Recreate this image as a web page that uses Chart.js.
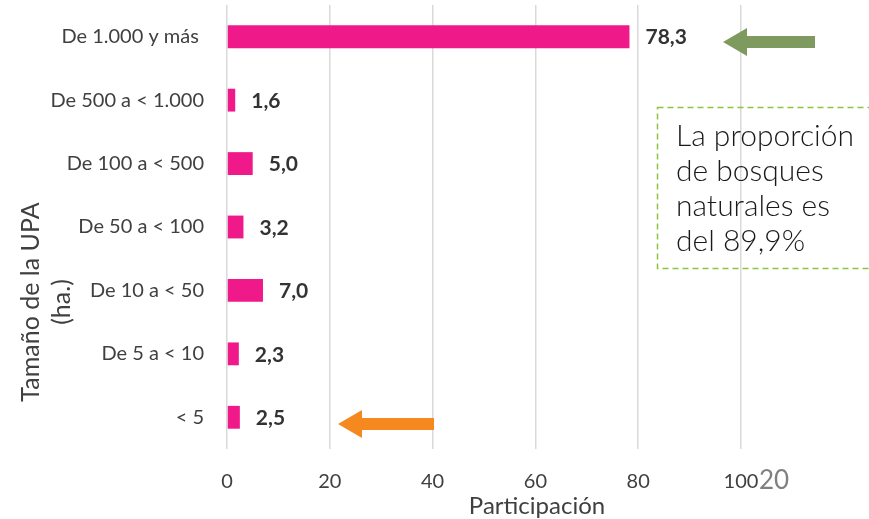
<!DOCTYPE html>
<html>
<head>
<meta charset="utf-8">
<script src="https://cdn.jsdelivr.net/npm/chart.js@4.4.1/dist/chart.umd.min.js"></script>
<style>
  html, body { margin: 0; padding: 0; background: #fff; }
  #wrap { width: 869px; height: 519px; position: relative; }
</style>
</head>
<body>
<div id="wrap"><canvas id="c" width="869" height="519"></canvas></div>
<script>
(function () {
  'use strict';

  // data
  var categories = ['De 1.000 y más ', 'De 500 a < 1.000', 'De 100 a < 500', 'De 50 a < 100',
                    'De 10 a < 50', 'De 5 a < 10', '< 5'];
  var participacion = [78.3, 1.6, 5.0, 3.2, 7.0, 2.3, 2.5];
  var xTicks = [0, 20, 40, 60, 80, 100];

  var FONT = 'Lato, "Open Sans", Arial, sans-serif';
  var TXT = '#404040';

  function fmt(v) { return v.toFixed(1).replace('.', ','); }

  // value labels next to the bars
  var valueLabels = {
    id: 'valueLabels',
    afterDatasetsDraw: function (chart) {
      var ctx = chart.ctx;
      var meta = chart.getDatasetMeta(0);
      ctx.save();
      ctx.font = 'bold 21px ' + FONT;
      ctx.fillStyle = '#333333';
      ctx.textAlign = 'left';
      ctx.textBaseline = 'middle';
      meta.data.forEach(function (bar, i) {
        ctx.fillText(fmt(participacion[i]), bar.x + 16, bar.y + 1);
      });
      ctx.restore();
    }
  };

  function arrow(ctx, tipX, tailX, y, shaft, head, headLen, color) {
    ctx.fillStyle = color;
    ctx.beginPath();
    ctx.moveTo(tipX, y);
    ctx.lineTo(tipX + headLen, y - head / 2);
    ctx.lineTo(tipX + headLen, y - shaft / 2);
    ctx.lineTo(tailX, y - shaft / 2);
    ctx.lineTo(tailX, y + shaft / 2);
    ctx.lineTo(tipX + headLen, y + shaft / 2);
    ctx.lineTo(tipX + headLen, y + head / 2);
    ctx.closePath();
    ctx.fill();
  }

  // titles, arrows, note box, page number
  var extras = {
    id: 'extras',
    afterDraw: function (chart) {
      var ctx = chart.ctx;
      ctx.save();

      // axis titles
      ctx.fillStyle = TXT;
      ctx.font = '24px ' + FONT;
      ctx.textAlign = 'center';
      ctx.textBaseline = 'middle';
      ctx.fillText('Participación', 537, 506);

      ctx.save();
      ctx.translate(31, 302);
      ctx.rotate(-Math.PI / 2);
      ctx.font = '25px ' + FONT;
      ctx.fillText('Tamaño de la UPA', 0, 0);
      ctx.fillText('(ha.)', 0, 31);
      ctx.restore();

      // arrows
      arrow(ctx, 723, 815, 42, 12, 28, 24, '#7f9a5e');
      arrow(ctx, 338, 434, 424, 12, 28, 24, '#f5891f');

      // dashed note box
      ctx.strokeStyle = '#8cc43f';
      ctx.lineWidth = 1.5;
      ctx.setLineDash([6, 4]);
      ctx.strokeRect(657.5, 107.5, 240, 161);
      ctx.setLineDash([]);

      ctx.fillStyle = '#1a1a1a';
      ctx.font = '300 30px ' + FONT;
      ctx.textAlign = 'left';
      ctx.textBaseline = 'middle';
      ['La proporción', 'de bosques', 'naturales es', 'del 89,9%'].forEach(function (t, i) {
        ctx.fillText(t, 676, 136 + i * 35);
      });

      // page number
      ctx.fillStyle = '#808080';
      ctx.font = '26px ' + FONT;
      ctx.fillText('20', 759, 481);

      ctx.restore();
    }
  };

  new Chart(document.getElementById('c'), {
    type: 'bar',
    data: {
      labels: categories,
      datasets: [{
        data: participacion,
        backgroundColor: '#f0198a',
        borderWidth: 0,
        categoryPercentage: 1,
        barPercentage: 0.36
      }]
    },
    options: {
      indexAxis: 'y',
      responsive: false,
      animation: false,
      layout: { autoPadding: false, padding: { top: 5, right: 128, bottom: 0, left: 0 } },
      plugins: { legend: { display: false }, tooltip: { enabled: false } },
      scales: {
        x: {
          min: 0, max: 100,
          afterBuildTicks: function (s) { s.ticks = xTicks.map(function (v) { return { value: v }; }); },
          afterFit: function (s) { s.height = 70; s.paddingLeft = 0; s.paddingRight = 0; },
          grid: { color: '#d9d9d9', lineWidth: 1.5, drawTicks: false },
          border: { display: false },
          ticks: { color: TXT, font: { family: FONT, size: 20 }, padding: 21 }
        },
        y: {
          afterFit: function (s) { s.width = 227; s.paddingTop = 0; s.paddingBottom = 0; },
          grid: { display: false, drawTicks: false },
          border: { display: false },
          ticks: { color: TXT, font: { family: FONT, size: 20 }, padding: 23 }
        }
      }
    },
    plugins: [valueLabels, extras]
  });
})();
</script>
</body>
</html>
